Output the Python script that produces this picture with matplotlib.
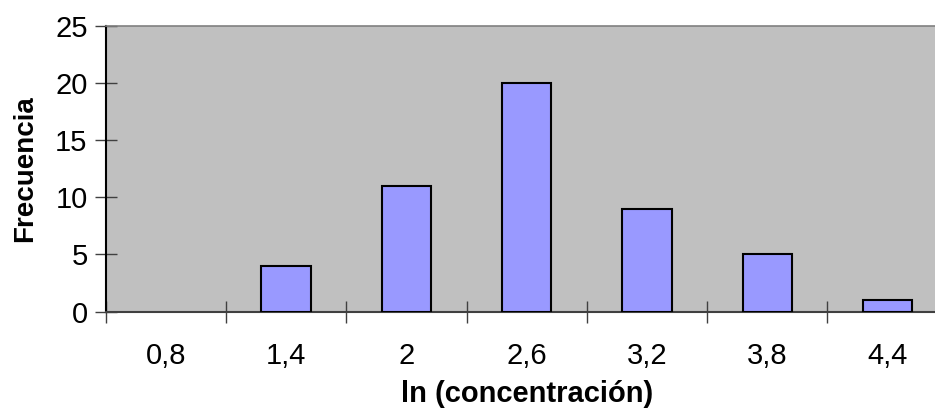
import matplotlib.pyplot as plt
import numpy as np

plt.rcParams['font.family'] = ['Liberation Sans', 'DejaVu Sans']

# dados do histograma
categorias = ['0,8', '1,4', '2', '2,6', '3,2', '3,8', '4,4']
frecuencia = [0, 4, 11, 20, 9, 5, 1]

fig = plt.figure(figsize=(9.35, 4.09), dpi=100)
ax = fig.add_axes([0.113, 0.238, 0.9006, 0.699])
ax.set_facecolor('#C0C0C0')

x = np.arange(len(categorias))
# barra de altura zero nao aparece no original
bordas = ['black' if f > 0 else 'none' for f in frecuencia]
ax.bar(x, frecuencia, width=0.41, color='#9999FF', edgecolor=bordas, linewidth=1.5, zorder=3)

ax.set_xlim(-0.5, len(categorias) - 0.5)
ax.set_ylim(0, 25)
ax.set_yticks(range(0, 26, 5))

# rotulos no centro, tracinhos entre as categorias
ax.set_xticks(x)
ax.set_xticklabels(categorias)
ax.set_xticks(np.arange(-0.5, len(categorias), 1), minor=True)
ax.tick_params(axis='x', which='major', length=0, pad=22, labelsize=21)
ax.tick_params(axis='x', which='minor', direction='inout', length=16, width=1, color='#404040')
ax.tick_params(axis='y', direction='inout', length=16, width=1, pad=5, labelsize=21, color='#404040')

for lado in ['top', 'right']:
    ax.spines[lado].set_color('#808080')
    ax.spines[lado].set_linewidth(1.2)
ax.spines['left'].set_color('black')
ax.spines['left'].set_linewidth(1.5)
ax.spines['bottom'].set_color('#404040')
ax.spines['bottom'].set_linewidth(1.5)

ax.set_xlabel('ln (concentración)', fontsize=21, fontweight='bold', labelpad=7)
ax.set_ylabel('Frecuencia', fontsize=20, fontweight='bold', labelpad=12)

fig.savefig('out.png', dpi=100)
